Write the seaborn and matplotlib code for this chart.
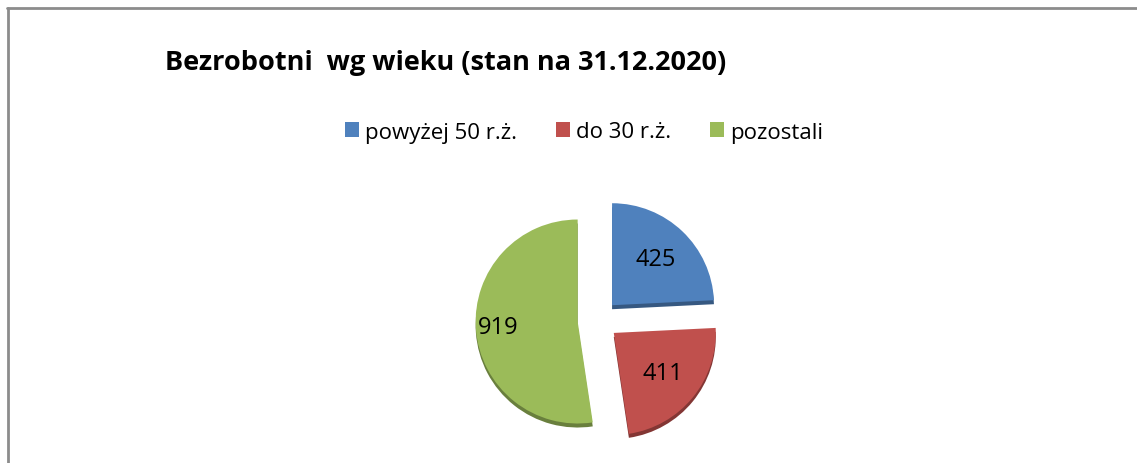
import numpy as np
import matplotlib
matplotlib.use("Agg")
import matplotlib.pyplot as plt
import matplotlib.colors as mcolors
from matplotlib.patches import Patch
from matplotlib.lines import Line2D
import seaborn as sns

# Chart data
title = "Bezrobotni  wg wieku (stan na 31.12.2020)"
categories = ["powyżej 50 r.ż.", "do 30 r.ż.", "pozostali"]
values = [425, 411, 919]
colors = ["#4F81BD", "#C0504D", "#9BBB59"]

sns.set_theme(style="white")
plt.rcParams["font.family"] = ["Open Sans", "DejaVu Sans"]
plt.rcParams["text.color"] = "black"

W, H = 1137, 464
fig = plt.figure(figsize=(W / 100, H / 100), dpi=100)
fig.patch.set_facecolor("white")
ax = fig.add_axes([0, 0, 1, 1])

cx, cy, r = 598, H - 321, 102
# explode is in data units here (pie uses radius for size only)
explode = [0.2 * r] * len(values)

# darker copy slightly lower -> fake 3D thickness
dark = [mcolors.to_hex(np.array(mcolors.to_rgb(c)) * 0.68) for c in colors]
ax.pie(values, colors=dark, startangle=90, counterclock=False, explode=explode,
       center=(cx, cy - 4), radius=r, wedgeprops=dict(linewidth=0))
wedges, _ = ax.pie(values, colors=colors, startangle=90, counterclock=False,
                   explode=explode, center=(cx, cy), radius=r,
                   wedgeprops=dict(linewidth=0))

# value labels inside the wedges
dists = [0.62, 0.62, 0.78]
for w, v, d in zip(wedges, values, dists):
    ang = np.deg2rad((w.theta1 + w.theta2) / 2)
    x0, y0 = w.center
    ax.text(x0 + d * r * np.cos(ang), y0 + d * r * np.sin(ang), str(v),
            ha="center", va="center", fontsize=17, color="black")

ax.set_xlim(0, W)
ax.set_ylim(0, H)
ax.set_aspect("equal")
ax.axis("off")

# chart frame (left and top edges visible)
fig.add_artist(Line2D([7.5 / W, 7.5 / W], [0, 1 - 8.5 / H], transform=fig.transFigure,
                      color="#8c8c8c", lw=2))
fig.add_artist(Line2D([6.5 / W, 1], [1 - 8.5 / H, 1 - 8.5 / H], transform=fig.transFigure,
                      color="#8c8c8c", lw=2))

fig.text(165 / W, 1 - 63 / H, title, fontsize=19.5, fontweight="bold",
         ha="left", va="center", color="black")

handles = [Patch(facecolor=c, edgecolor="none", label=l) for c, l in zip(colors, categories)]
fig.legend(handles=handles, loc="center", bbox_to_anchor=(584 / W, 1 - 133 / H), ncol=3,
           frameon=False, fontsize=16, handlelength=0.65, handleheight=0.65,
           handletextpad=0.25, columnspacing=1.75, labelcolor="black")

fig.savefig("out.png", dpi=100)
